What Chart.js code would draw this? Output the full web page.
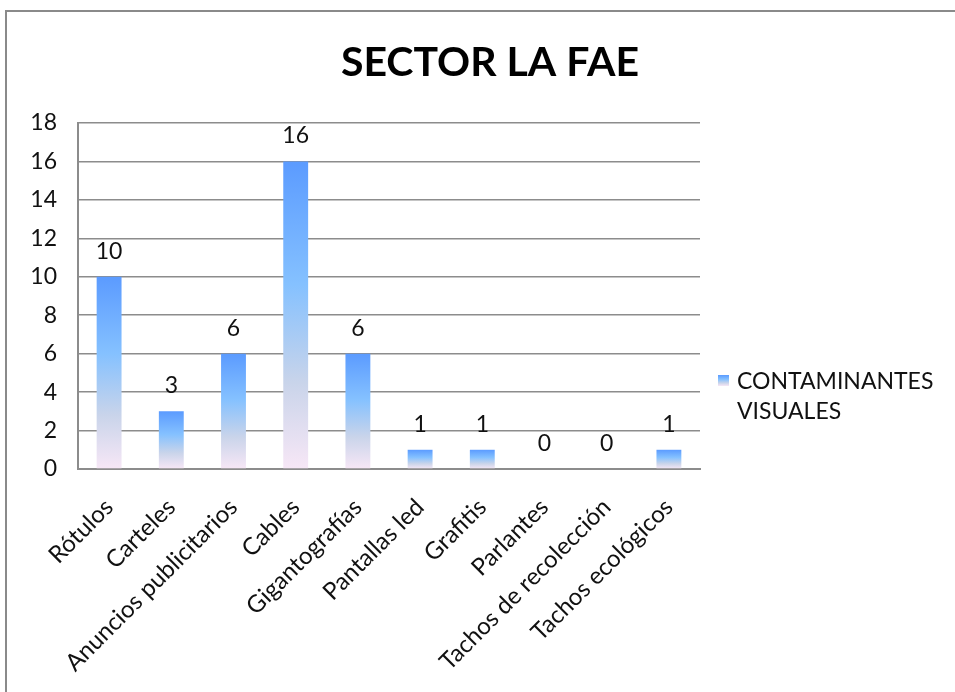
<!DOCTYPE html>
<html>
<head>
<meta charset="utf-8">
<script src="https://cdn.jsdelivr.net/npm/chart.js@4.4.0/dist/chart.umd.min.js"></script>
<style>
  html, body { margin: 0; padding: 0; background: #fff; }
  #wrap { width: 955px; height: 692px; position: relative; }
</style>
</head>
<body>
<div id="wrap"><canvas id="chart" width="955" height="692"></canvas></div>
<script>
const categories = ['Rótulos', 'Carteles', 'Anuncios publicitarios', 'Cables', 'Gigantografías',
    'Pantallas led', 'Grafitis', 'Parlantes', 'Tachos de recolección', 'Tachos ecológicos'];
const values = [10, 3, 6, 16, 6, 1, 1, 0, 0, 1];
const seriesName = 'CONTAMINANTES VISUALES';
const legendLines = ['CONTAMINANTES', 'VISUALES'];
const chartTitle = 'SECTOR LA FAE';

const FONT = 'Lato, "Noto Sans", sans-serif';
const gridColor = '#8c8c8c';

// degradado de cada barra: azul arriba, rosado abajo
function barGradient(ctx, top, bottom) {
    const g = ctx.createLinearGradient(0, top, 0, bottom);
    g.addColorStop(0, '#5b9bff');
    g.addColorStop(0.4, '#85c1ff');
    g.addColorStop(0.72, '#c9d4ea');
    g.addColorStop(1, '#f7e7f6');
    return g;
}

const framePlugin = {
    id: 'frame',
    beforeDraw(chart) {
        const c = chart.ctx;
        c.save();
        c.fillStyle = '#fff';
        c.fillRect(0, 0, chart.width, chart.height);
        c.strokeStyle = '#8a8a8a';
        c.lineWidth = 2;
        c.beginPath();
        c.moveTo(6, chart.height + 5);
        c.lineTo(6, 11);
        c.lineTo(chart.width + 5, 11);
        c.stroke();
        c.restore();
    },
    afterDraw(chart) {
        const c = chart.ctx;
        c.save();
        // titulo
        c.fillStyle = '#000';
        c.font = 'bold 41px ' + FONT;
        c.textAlign = 'center';
        c.textBaseline = 'middle';
        c.fillText(chartTitle, 490, 63);
        // leyenda
        c.fillStyle = barGradient(c, 375, 386);
        c.fillRect(718, 375, 11, 11);
        c.fillStyle = '#111';
        c.font = '23px ' + FONT;
        c.textAlign = 'left';
        c.textBaseline = 'middle';
        legendLines.forEach((t, i) => c.fillText(t, 737, 382 + i * 30));
        c.restore();
    },
    afterDatasetsDraw(chart) {
        const c = chart.ctx;
        const meta = chart.getDatasetMeta(0);
        c.save();
        c.fillStyle = '#111';
        c.font = '23px ' + FONT;
        c.textAlign = 'center';
        c.textBaseline = 'bottom';
        meta.data.forEach((bar, i) => {
            c.fillText(String(values[i]), bar.x, bar.y - 14);
        });
        c.restore();
    }
};

new Chart(document.getElementById('chart'), {
    type: 'bar',
    data: {
        labels: categories,
        datasets: [{
            label: seriesName,
            data: values,
            barPercentage: 0.4,
            categoryPercentage: 1,
            backgroundColor: (ctx) => {
                const chart = ctx.chart;
                if (!chart.chartArea) return '#5b9bff';
                const y = chart.scales.y;
                const top = y.getPixelForValue(ctx.raw || 0);
                const base = y.getPixelForValue(0);
                if (base - top < 1) return '#5b9bff';
                return barGradient(chart.ctx, top, base);
            }
        }]
    },
    options: {
        responsive: false,
        animation: false,
        layout: { padding: { top: 123, right: 255, left: 10, bottom: 0 } },
        plugins: {
            legend: { display: false },
            title: { display: false },
            tooltip: { enabled: false }
        },
        scales: {
            y: {
                min: 0,
                max: 18,
                ticks: { stepSize: 2, color: '#111', font: { family: FONT, size: 23 }, padding: 21 },
                grid: { color: gridColor, lineWidth: 1.5, drawTicks: false },
                border: { color: gridColor, width: 2 },
                afterFit(scale) { scale.width = 68; }
            },
            x: {
                ticks: {
                    color: '#111',
                    font: { family: FONT, size: 24 },
                    maxRotation: 45,
                    minRotation: 45,
                    autoSkip: false,
                    padding: 24
                },
                grid: { display: false, drawTicks: false },
                border: { color: gridColor, width: 2 },
                afterFit(scale) { scale.height = 223; }
            }
        }
    },
    plugins: [framePlugin]
});
</script>
</body>
</html>
